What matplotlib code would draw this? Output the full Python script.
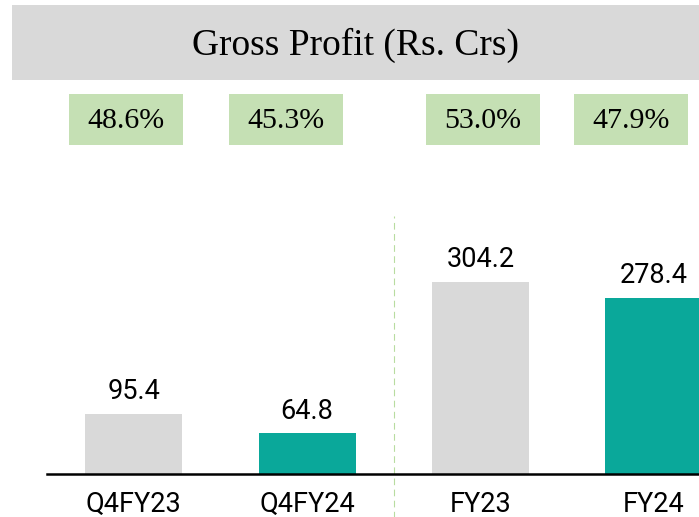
import matplotlib.pyplot as plt
from matplotlib.patches import Rectangle

# data
categories = ['Q4FY23', 'Q4FY24', 'FY23', 'FY24']
gross_profit = [95.4, 64.8, 304.2, 278.4]
margins = ['48.6%', '45.3%', '53.0%', '47.9%']
bar_colors = ['#d9d9d9', '#0aa89a', '#d9d9d9', '#0aa89a']

sans = 'Roboto'
serif = 'Liberation Serif'

W, H = 699, 517
fig = plt.figure(figsize=(W / 100, H / 100), dpi=100)

# title banner
fig.add_artist(Rectangle((12 / W, 1 - 80 / H), 1 - 12 / W, 75 / H,
                         transform=fig.transFigure, color='#d9d9d9', lw=0))
fig.text((12 + W) / 2 / W, 1 - 45 / H, 'Gross Profit (Rs. Crs)',
         family=serif, fontsize=27, ha='center', va='center')

# margin boxes
box_left = [69, 229, 426, 574]
for x0, m in zip(box_left, margins):
    fig.add_artist(Rectangle((x0 / W, 1 - 145 / H), 114 / W, 51 / H,
                             transform=fig.transFigure, color='#c5e0b4', lw=0))
    fig.text((x0 + 57) / W, 1 - 121 / H, m, family=serif, fontsize=21.5,
             ha='center', va='center')

# bar axes: left at 47px, baseline at 474px, top at 200px
ax = fig.add_axes([47 / W, (H - 474) / H, 1 - 47 / W, 274 / H])
x = range(len(categories))
bars = ax.bar(x, gross_profit, width=0.56, color=bar_colors)
ax.set_xlim(-0.5, 3.26)
ax.set_ylim(0, 433)

for b, v in zip(bars, gross_profit):
    ax.annotate(f'{v:.1f}', (b.get_x() + b.get_width() / 2, v),
                xytext=(0, 6), textcoords='offset points',
                ha='center', va='bottom', family=sans, fontsize=19.5)

ax.set_xticks(list(x))
ax.set_xticklabels(categories, family=sans, fontsize=19.5)
ax.tick_params(axis='x', length=0, pad=12)
ax.set_yticks([])
for s in ['top', 'right', 'left']:
    ax.spines[s].set_visible(False)
ax.spines['bottom'].set_linewidth(1.8)

# divider between quarter and full year
ax.axvline(1.5, ymin=-0.16, ymax=0.942, color='#b8dca0', lw=0.8,
           ls=(0, (6, 4)), clip_on=False)

fig.savefig('out.png', dpi=100)
